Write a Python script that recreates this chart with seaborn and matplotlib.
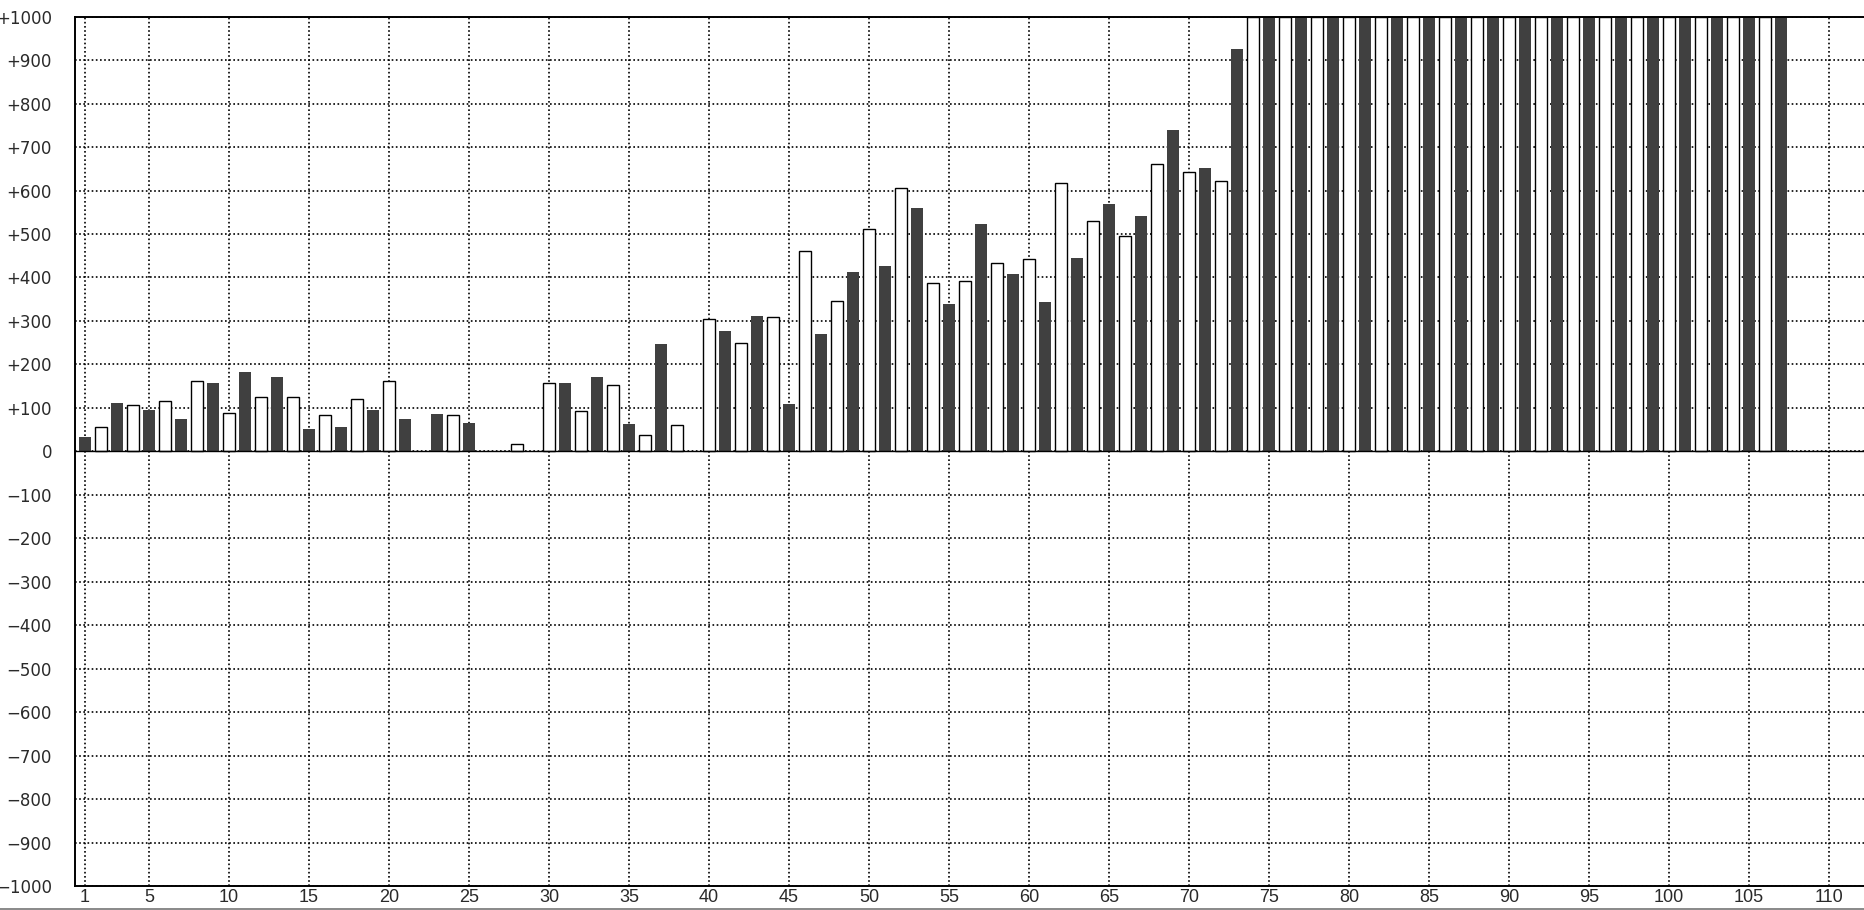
"""Alternating dark / outlined bar chart, +-1000 range."""
import matplotlib

matplotlib.use("Agg")
import matplotlib.pyplot as plt
import pandas as pd
import seaborn as sns
from matplotlib.patches import Rectangle

# odd positions: filled dark bars
DARK_POS = [1, 3, 5, 7, 9, 11, 13, 15, 17, 19, 21, 23, 25, 31, 33, 35, 37,
            41, 43, 45, 47, 49, 51, 53, 55, 57, 59, 61, 63, 65, 67, 69, 71, 73,
            75, 77, 79, 81, 83, 85, 87, 89, 91, 93, 95, 97, 99, 101, 103, 105, 107]
DARK_VAL = [34, 112, 95, 75, 158, 182, 172, 52, 57, 94, 75, 85, 66, 158, 172, 62, 246,
            278, 311, 108, 269, 412, 426, 560, 338, 523, 408, 343, 445, 569, 542, 740, 652, 925,
            1000, 1000, 1000, 1000, 1000, 1000, 1000, 1000, 1000, 1000, 1000, 1000, 1000,
            1000, 1000, 1000, 1000]

# even positions: white bars with black outline
LIGHT_POS = [2, 4, 6, 8, 10, 12, 14, 16, 18, 20, 24, 28, 30, 32, 34, 36, 38,
             40, 42, 44, 46, 48, 50, 52, 54, 56, 58, 60, 62, 64, 66, 68, 70, 72,
             74, 76, 78, 80, 82, 84, 86, 88, 90, 92, 94, 96, 98, 100, 102, 104, 106]
LIGHT_VAL = [55, 106, 115, 162, 88, 125, 125, 83, 120, 162, 83, 18, 157, 92, 152, 37, 60,
             305, 249, 309, 462, 346, 512, 605, 388, 392, 434, 443, 618, 531, 495, 660, 642, 623,
             1000, 1000, 1000, 1000, 1000, 1000, 1000, 1000, 1000, 1000, 1000, 1000, 1000,
             1000, 1000, 1000, 1000]

X_TICKS = [1, 5, 10, 15, 20, 25, 30, 35, 40, 45, 50, 55, 60, 65, 70, 75, 80,
           85, 90, 95, 100, 105, 110]
Y_TICKS = [-1000, -900, -800, -700, -600, -500, -400, -300, -200, -100, 0,
           100, 200, 300, 400, 500, 600, 700, 800, 900, 1000]

DARK, INK, TEXT = "#404040", "#000000", "#2a2a2a"
W, H = 1864, 910


def ylabel(v):
    if v > 0:
        return f"+{v}"
    if v < 0:
        return f"\u2212{abs(v)}"
    return "0"


def main():
    sns.set_theme(style="white")
    plt.rcParams["font.family"] = ["DejaVu Sans"]

    fig = plt.figure(figsize=(W / 100, H / 100), dpi=100)
    ax = fig.add_axes([75 / W, 24 / H, 1 - 75 / W, (886 - 16.7) / H])

    dark = pd.DataFrame({"pos": DARK_POS, "value": DARK_VAL})
    light = pd.DataFrame({"pos": LIGHT_POS, "value": LIGHT_VAL})

    sns.barplot(data=dark, x="pos", y="value", native_scale=True, width=0.375,
                color=DARK, saturation=1, linewidth=0, errorbar=None, ax=ax, zorder=2)
    sns.barplot(data=light, x="pos", y="value", native_scale=True, width=0.375,
                color="white", edgecolor=INK, linewidth=1.0, saturation=1,
                errorbar=None, ax=ax, zorder=2)

    ax.set_xlim(0.375, 112.2)
    ax.set_ylim(-1000, 1000)
    ax.set_xticks(X_TICKS)
    ax.set_xticklabels([str(t) for t in X_TICKS], color=TEXT, fontsize=13,
                       family=["Liberation Sans", "DejaVu Sans"])
    ax.set_yticks(Y_TICKS)
    ax.set_yticklabels([ylabel(v) for v in Y_TICKS], color=TEXT, fontsize=12)
    ax.set_xlabel("")
    ax.set_ylabel("")
    ax.tick_params(axis="both", length=0)
    ax.tick_params(axis="y", pad=16.5)
    ax.tick_params(axis="x", pad=2.5)

    ax.grid(True, color=INK, linestyle=(0, (1, 1.5)), linewidth=1.2)
    ax.set_axisbelow(True)
    ax.axhline(0, color=INK, lw=1.0, zorder=3)

    for side in ("left", "top", "bottom"):
        ax.spines[side].set_visible(True)
        ax.spines[side].set_color(INK)
        ax.spines[side].set_linewidth(1.4)
    ax.spines["right"].set_visible(False)

    # thin grey strip along the bottom edge of the picture
    fig.add_artist(Rectangle((0, 0), 1, 2.2 / H, transform=fig.transFigure,
                             facecolor="#8c8c8c", edgecolor="none"))

    fig.savefig("out.png", dpi=100)
    plt.close(fig)


if __name__ == "__main__":
    main()
